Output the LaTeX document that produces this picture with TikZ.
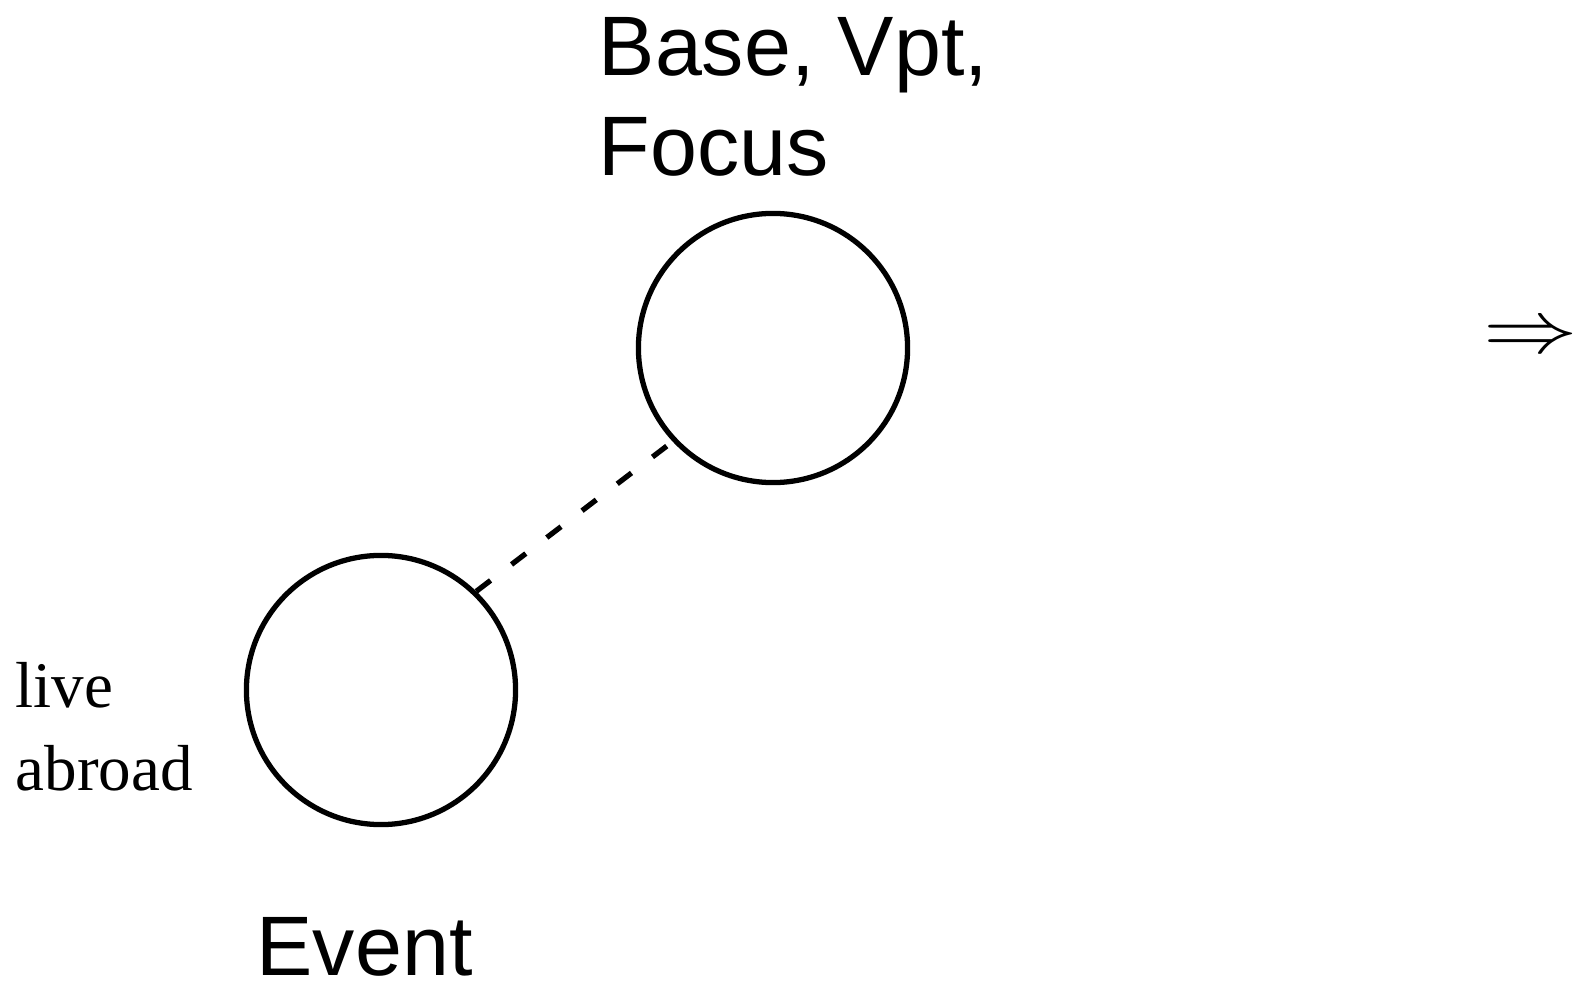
\documentclass[tikz,border=0pt]{standalone}
\usepackage{fontspec}
\setmainfont{Liberation Serif}
\setsansfont{Liberation Sans}
\usetikzlibrary{positioning,shapes}

\tikzset{
  role/.style={circle, draw, line width=1.5pt, minimum size=2.69cm, inner sep=0pt},
  rolelbl/.style={inner sep=0pt, align=left, font=\sffamily\fontsize{24}{28.5}\selectfont},
  wordlbl/.style={inner sep=0pt, align=left, font=\fontsize{18.5}{23.5}\selectfont},
  link/.style={line width=1.5pt, dash pattern=on 5.1pt off 7.5pt}
}

\begin{document}
\begin{tikzpicture}[x=0.01cm, y=-0.01cm]
        \useasboundingbox (0,0) rectangle (1581,988);
        %nodes
        \node[role] (base) at (773,348) {};
        \node[role] (event) at (381,690) {};
        \node[rolelbl, anchor=north west] (baselbl) at (598,17) {Base, Vpt,\\Focus};
        \node[rolelbl, anchor=base west] (eventlbl) at (256,975) {Event};
        \node[wordlbl, anchor=north west] (wordlbl) at (15,662) {live\\abroad};
        \node[inner sep=0pt, font=\fontsize{24}{28}\selectfont] (implies) at (1531,339) {\scalebox{1.08}[0.85]{$\Rightarrow$}};
        %edges
        \path [draw,link] (event.46) -- (base.223);
      \end{tikzpicture}
\end{document}
